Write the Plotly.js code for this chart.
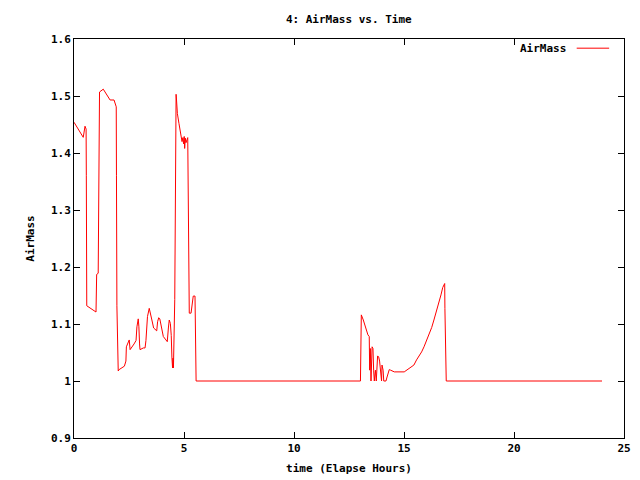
<!DOCTYPE html>
<html>
<head>
<meta charset="utf-8">
<script src="https://cdn.plot.ly/plotly-3.0.1.min.js"></script>
<style>html,body{margin:0;padding:0;background:#fff}#chart{width:640px;height:480px}</style>
</head>
<body>
<div id="chart"></div>
<script>
const hours = [
  0,0.42,0.5,0.55,0.56,0.57,0.58,1.0,1.01,1.03,1.1,1.11,1.13,1.16,1.33,1.64,1.82,1.92,1.93,1.95,2.01,
  2.05,2.29,2.36,2.38,2.47,2.51,2.55,2.65,2.73,2.82,2.86,2.92,2.95,2.98,3.0,
  3.15,3.23,3.27,3.30,3.34,3.42,3.48,3.54,3.62,3.76,3.80,3.85,3.90,4.0,
  4.06,4.18,4.24,4.29,4.33,4.38,4.42,4.45,4.48,4.50,4.52,
  4.58,4.61,4.64,4.66,4.70,4.77,4.85,4.91,4.95,4.98,5.01,5.03,5.06,5.09,5.17,
  5.18,5.23,5.24,5.32,5.38,5.42,5.50,5.52,5.55,
  13.02,13.03,13.06,13.15,13.22,13.30,13.36,13.42,13.44,13.47,13.50,13.55,13.59,13.62,13.65,
  13.70,13.74,13.80,13.85,13.89,13.94,13.96,13.98,14.00,14.05,14.08,14.18,14.23,14.28,14.33,14.39,14.56,
  15.01,15.12,15.23,15.33,15.45,15.57,15.70,15.80,15.91,16.03,16.15,16.26,16.36,16.48,16.59,16.68,16.76,16.82,16.85,16.86,16.89,16.92,24.0
];
const airmass = [
  1.454,1.4275,1.447,1.442,1.361,1.209,1.132,1.121,1.152,1.187,1.189,1.269,1.426,1.507,1.512,1.493,1.493,1.481,1.361,1.132,1.0175,
  1.02,1.026,1.035,1.060,1.068,1.072,1.055,1.060,1.065,1.071,1.095,1.109,1.095,1.065,1.055,
  1.058,1.058,1.071,1.096,1.113,1.1275,1.119,1.107,1.093,1.088,1.104,1.111,1.109,1.090,
  1.078,1.072,1.069,1.093,1.107,1.101,1.080,1.042,1.023,1.040,1.023,
  1.143,1.382,1.503,1.493,1.469,1.452,1.437,1.420,1.427,1.416,1.429,1.408,1.426,1.418,1.427,
  1.353,1.198,1.119,1.119,1.140,1.149,1.149,1.075,1.0,
  1.0,1.057,1.116,1.107,1.098,1.089,1.081,1.078,1.019,1.057,1.0,1.060,1.057,1.019,1.0,
  1.019,1.0,1.044,1.042,1.035,1.014,1.019,1.0,1.028,1.019,1.0,1.0,1.007,1.013,1.020,1.019,1.016,
  1.016,1.019,1.022,1.024,1.028,1.037,1.044,1.051,1.060,1.071,1.081,1.094,1.107,1.122,1.136,1.151,1.164,1.171,1.171,1.127,1.043,1.0,1.0
];
const xTicks = [0,5,10,15,20,25];
const yTicks = [0.9,1,1.1,1.2,1.3,1.4,1.5,1.6];

const fnt = {family:'"DejaVu Sans Mono", monospace', size:11, color:'#000', weight:'bold'};
const trace = {x:hours, y:airmass, type:'scatter', mode:'lines', name:'AirMass',
  line:{color:'#ff0000', width:1}, showlegend:false};
const axisCommon = {showgrid:false, zeroline:false, showline:true, linecolor:'#000', linewidth:1,
  mirror:'ticks', ticks:'inside', ticklen:6, tickcolor:'#000', tickfont:fnt};
const layout = {
  width:640, height:480, paper_bgcolor:'#fff', plot_bgcolor:'#fff',
  margin:{l:74, r:16, t:39, b:42},
  font:fnt,
  title:{text:'4: AirMass vs. Time', font:fnt, x:0.545, xanchor:'center', y:0.96, yanchor:'middle'},
  xaxis:Object.assign({}, axisCommon, {range:[0,25], tickvals:xTicks, ticktext:xTicks.map(String),
    title:{text:'time (Elapse Hours)', font:fnt, standoff:10}}),
  yaxis:Object.assign({}, axisCommon, {range:[0.9,1.6], tickvals:yTicks, ticktext:yTicks.map(String),
    title:{text:'AirMass', font:fnt, standoff:14}}),
  annotations:[{xref:'paper', yref:'paper', x:0.898, y:0.977, xanchor:'right', yanchor:'middle',
    text:'AirMass', showarrow:false, font:fnt}],
  shapes:[{type:'line', xref:'paper', yref:'paper', x0:0.914, x1:0.973, y0:0.977, y1:0.977,
    line:{color:'#ff0000', width:1}}]
};
Plotly.newPlot('chart', [trace], layout, {displayModeBar:false, staticPlot:true});
</script>
</body>
</html>
